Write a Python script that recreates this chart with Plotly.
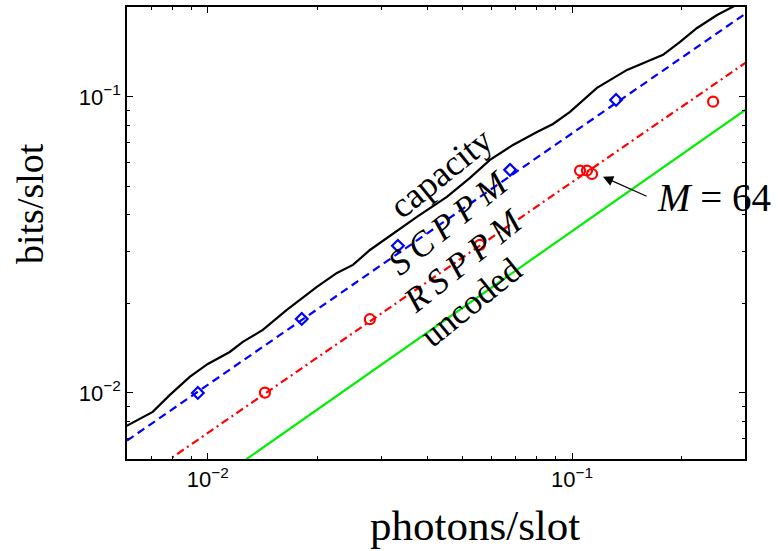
import plotly.graph_objects as go
import math

# ---- data ----
cap_x = [0.00599, 0.00706, 0.00787, 0.00892, 0.0100, 0.01149, 0.01248, 0.01416, 0.01648,
         0.01993, 0.02262, 0.02503, 0.02787, 0.03264, 0.03751, 0.04534, 0.05246, 0.05953,
         0.06885, 0.08014, 0.08867, 0.09874, 0.1171, 0.1416, 0.1607, 0.1778, 0.1980,
         0.2205, 0.2502, 0.2769, 0.300]
cap_y = [0.00774, 0.00863, 0.00985, 0.01133, 0.01253, 0.01375, 0.01487, 0.01633, 0.01907,
         0.02281, 0.02543, 0.02706, 0.03040, 0.03499, 0.03932, 0.04594, 0.05325, 0.06125,
         0.06883, 0.07615, 0.08103, 0.08899, 0.1073, 0.1234, 0.1313, 0.1387, 0.1534,
         0.1710, 0.1892, 0.2013, 0.2125]

sc_line_x = [0.0060, 0.300]
sc_line_y = [0.0069, 0.1915]
sc_pts_x = [0.00939, 0.01811, 0.03326, 0.0676, 0.1321]
sc_pts_y = [0.0100, 0.01778, 0.03141, 0.0567, 0.0977]

rs_line_x = [0.0075, 0.300]
rs_line_y = [0.00574, 0.1306]
rs_pts_x = [0.01435, 0.02786, 0.05585, 0.1052, 0.1099, 0.1135, 0.244]
rs_pts_y = [0.01002, 0.01774, 0.03162, 0.0564, 0.0564, 0.0549, 0.0964]

un_x = [0.012, 0.300]
un_y = [0.00566, 0.0907]

x_major = [0.01, 0.1]
x_major_text = ["10<sup>\u22122</sup>", "10<sup>\u22121</sup>"]
y_major = [0.01, 0.1]
y_major_text = ["10<sup>\u22122</sup>", "10<sup>\u22121</sup>"]
x_minor = [0.006, 0.007, 0.008, 0.009, 0.02, 0.03, 0.04, 0.05, 0.06, 0.07, 0.08, 0.09, 0.2, 0.3]
y_minor = [0.006, 0.007, 0.008, 0.009, 0.02, 0.03, 0.04, 0.05, 0.06, 0.07, 0.08, 0.09, 0.2]

fig = go.Figure()
fig.add_trace(go.Scatter(x=cap_x, y=cap_y, mode="lines",
                         line=dict(color="black", width=2.2), showlegend=False))
fig.add_trace(go.Scatter(x=sc_line_x, y=sc_line_y, mode="lines",
                         line=dict(color="#0000ff", width=2.2, dash="8px,5px"), showlegend=False))
fig.add_trace(go.Scatter(x=sc_pts_x, y=sc_pts_y, mode="markers",
                         marker=dict(symbol="diamond-open", size=9, color="#0000ff",
                                     line=dict(width=2.2, color="#0000ff")), showlegend=False))
fig.add_trace(go.Scatter(x=rs_line_x, y=rs_line_y, mode="lines",
                         line=dict(color="#ff0000", width=2.2, dash="8px,4px,2px,4px"), showlegend=False))
fig.add_trace(go.Scatter(x=rs_pts_x, y=rs_pts_y, mode="markers",
                         marker=dict(symbol="circle-open", size=10, color="#ff0000",
                                     line=dict(width=2.2, color="#ff0000")), showlegend=False))
fig.add_trace(go.Scatter(x=un_x, y=un_y, mode="lines",
                         line=dict(color="#00ee00", width=2.2), showlegend=False))

serif = "Liberation Serif, Times New Roman, serif"
lbl = [
    ("capacity", -1.360, -1.257, 36),
    ("<i>S\u2009C\u2009P\u2009P\u2009M</i>", -1.338, -1.425, 35),
    ("<i>R\u2009S\u2009P\u2009P\u2009M</i>", -1.298, -1.552, 35),
    ("uncoded", -1.277, -1.696, 35),
]
for t, ax, ay, fs in lbl:
    fig.add_annotation(x=ax, y=ay, xref="x", yref="y", text=t, showarrow=False,
                       textangle=-39, font=dict(family=serif, size=fs, color="black"))

fig.add_annotation(x=-0.772, y=-1.341, xref="x", yref="y", xanchor="left",
                   text="<i>M</i> = 64", showarrow=False,
                   font=dict(family=serif, size=39, color="black"))
fig.add_annotation(x=-0.915, y=-1.270, xref="x", yref="y", ax=-0.791, ay=-1.338,
                   axref="x", ayref="y", text="", showarrow=True, arrowhead=2,
                   arrowsize=1.7, arrowwidth=1.2, arrowcolor="black")

# axis titles (placed as in the reference, off-centre)
fig.add_annotation(x=(475 - 127) / (745 - 127), y=-(525 - 459) / (459 - 7), xref="paper", yref="paper",
                   text="photons/slot", showarrow=False, xanchor="center", yanchor="middle",
                   font=dict(family=serif, size=43, color="black"))
fig.add_annotation(x=-(127 - 30) / (745 - 127), y=(459 - 204) / (459 - 7), xref="paper", yref="paper",
                   text="bits/slot", showarrow=False, textangle=-90, xanchor="center", yanchor="middle",
                   font=dict(family=serif, size=38, color="black"))

axis_common = dict(type="log", showgrid=False, zeroline=False, showline=True,
                   linecolor="black", linewidth=1.5, mirror="ticks", ticks="inside",
                   ticklen=6, tickwidth=1, tickcolor="black",
                   tickfont=dict(family="Liberation Sans, Arial, sans-serif", size=22, color="black"))

fig.update_xaxes(**axis_common, range=[math.log10(0.006), math.log10(0.2985)],
                 tickvals=x_major, ticktext=x_major_text,
                 minor=dict(tickvals=x_minor, ticks="inside", ticklen=3, tickcolor="black", showgrid=False))
fig.update_yaxes(**axis_common, range=[math.log10(0.00598), math.log10(0.2013)],
                 tickvals=y_major, ticktext=y_major_text,
                 minor=dict(tickvals=y_minor, ticks="inside", ticklen=3, tickcolor="black", showgrid=False))

fig.update_layout(width=778, height=551, margin=dict(l=127, r=33, t=7, b=92, autoexpand=False),
                  plot_bgcolor="white", paper_bgcolor="white")
fig.write_html("out.html", config={"displayModeBar": False},
               post_script="document.body.style.margin='0px';document.body.style.overflow='hidden';")
